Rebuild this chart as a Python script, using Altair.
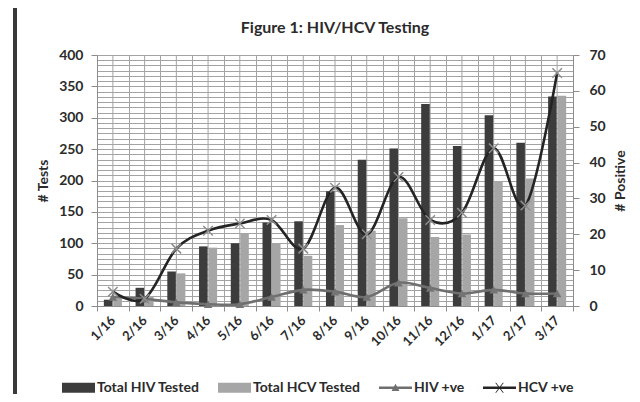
import altair as alt
import pandas as pd

# ---- data ----
months = ["1/16", "2/16", "3/16", "4/16", "5/16", "6/16", "7/16", "8/16",
          "9/16", "10/16", "11/16", "12/16", "1/17", "2/17", "3/17"]
hiv_tested = [10, 29, 55, 95, 100, 133, 135, 183, 233, 251, 322, 255, 304, 260, 334]
hcv_tested = [12, 15, 52, 93, 116, 100, 80, 129, 120, 140, 110, 114, 199, 203, 335]
hiv_pos = [2.5, 2, 1, 0.5, 0.5, 2.5, 4.5, 4, 2.5, 6.5, 5, 3.5, 4.5, 3.5, 3.5]
hcv_pos = [4, 2, 16, 21, 23, 24, 16, 33, 20, 36, 24, 26, 44, 28, 65]

series = ["Total HIV Tested", "Total HCV Tested", "HIV +ve", "HCV +ve"]
colors = ["#3c3c3c", "#a6a6a6", "#6f6f6f", "#242424"]
legend_shapes = [
    "M-1,-0.3H1V0.3H-1Z",
    "M-1,-0.3H1V0.3H-1Z",
    "M-1,-0.07H1V0.07H-1Z M-0.24,0.2L0,-0.24L0.24,0.2Z",
    "M-1,-0.07H1V0.07H-1Z M-0.26,-0.3L-0.2,-0.3L0.26,0.3L0.2,0.3Z "
    "M0.2,-0.3L0.26,-0.3L-0.2,0.3L-0.26,0.3Z",
]
left_ticks = [0, 50, 100, 150, 200, 250, 300, 350, 400]
right_ticks = [0, 10, 20, 30, 40, 50, 60, 70]

FONT = "Lato"
TXT = "#2b2b2b"
GRID = "#a3a3a3"
AXIS = "#8c8c8c"
W, H = 476, 251

bars_df = pd.DataFrame({
    "month": months + months,
    "series": [series[0]] * len(months) + [series[1]] * len(months),
    "value": hiv_tested + hcv_tested,
})
lines_df = pd.DataFrame({
    "month": months + months,
    "series": [series[2]] * len(months) + [series[3]] * len(months),
    "value": hiv_pos + hcv_pos,
})
months_df = pd.DataFrame({"month": months})

grid_vals = [i * 400 / 48 for i in range(49)]
is_major = "abs(datum.value / 50 - round(datum.value / 50)) < 0.01"

x_axis = alt.Axis(
    title=None, labelAngle=-45, labelAlign="right", labelBaseline="middle",
    labelFont=FONT, labelFontSize=13, labelFontWeight="bold", labelColor=TXT,
    labelPadding=7, tickBand="extent", grid=True, gridColor=GRID, gridWidth=1,
    tickColor=AXIS, tickSize=5, domainColor=AXIS,
)
x_enc = alt.X("month:N", sort=months,
              scale=alt.Scale(paddingInner=0, paddingOuter=0), axis=x_axis)

left_axis = alt.Axis(
    values=grid_vals, grid=True, gridColor=GRID, gridWidth=1,
    labelExpr=f"{is_major} ? format(round(datum.value), 'd') : ''",
    labelOverlap=False, labelFlush=False,
    tickOpacity={"condition": {"test": is_major, "value": 1}, "value": 0},
    tickSize=6, tickColor=AXIS, domainColor=AXIS, labelPadding=8,
    labelFont=FONT, labelFontSize=14, labelFontWeight="bold", labelColor=TXT,
    title="# Tests", titleFont=FONT, titleFontSize=14, titleFontWeight="bold",
    titleColor=TXT, titlePadding=8,
)
right_axis = alt.Axis(
    orient="right", values=right_ticks, grid=False,
    tickSize=6, tickColor=AXIS, domainColor=AXIS, labelPadding=10,
    labelFont=FONT, labelFontSize=14, labelFontWeight="bold", labelColor=TXT,
    title="# Positive", titleAngle=270, titleBaseline="top", titleFont=FONT,
    titleFontSize=14, titleFontWeight="bold", titleColor=TXT, titlePadding=8,
)

legend = alt.Legend(
    title=None, orient="none", legendX=-35, legendY=316, direction="horizontal",
    symbolSize=1089, symbolOpacity=1, symbolStrokeWidth=0,
    labelFont=FONT, labelFontSize=14, labelFontWeight="bold",
    labelColor=TXT, labelOffset=2, columnPadding=18, padding=0,
)
color_scale = alt.Scale(domain=series, range=colors)
color_enc = alt.Color("series:N", scale=color_scale, legend=legend)

border = alt.Chart(months_df).mark_rule(color="#3a3a3a", strokeWidth=3).encode(
    x=alt.value(-82), y=alt.value(-47), y2=alt.value(H + 88)
)

center_grid = alt.Chart(months_df).mark_rule(color=GRID, strokeWidth=1).encode(
    x=x_enc, y=alt.value(0), y2=alt.value(H)
)

bars = alt.Chart(bars_df).mark_bar().encode(
    x=x_enc,
    xOffset=alt.XOffset("series:N", sort=series[:2],
                        scale=alt.Scale(domain=series[:2], paddingInner=0.1,
                                        paddingOuter=0.72)),
    y=alt.Y("value:Q", scale=alt.Scale(domain=[0, 400], nice=False), axis=left_axis),
    color=color_enc,
)

y_right = alt.Y("value:Q", scale=alt.Scale(domain=[0, 70], nice=False), axis=right_axis)

lines = alt.Chart(lines_df).mark_line(interpolate="cardinal", strokeWidth=2.6).encode(
    x=x_enc, y=y_right, color=color_enc
)
tri = alt.Chart(lines_df).transform_filter(alt.datum.series == "HIV +ve").mark_point(
    shape="triangle-up", filled=True, size=75, color="#747474", opacity=1
).encode(x=x_enc, y=y_right)
xs = alt.Chart(lines_df).transform_filter(alt.datum.series == "HCV +ve").mark_point(
    shape="M-1,-1L1,1M-1,1L1,-1", filled=False, size=90, strokeWidth=1.5,
    color="#8e8e8e", opacity=1
).encode(x=x_enc, y=y_right)

# invisible layer that only supplies the legend symbol shapes
legend_layer = alt.Chart(lines_df).mark_point(filled=True, opacity=0).encode(
    x=x_enc, y=y_right,
    color=color_enc,
    shape=alt.Shape("series:N", scale=alt.Scale(domain=series, range=legend_shapes),
                    legend=legend),
)

right_layer = alt.layer(lines, tri, xs, legend_layer)

chart = alt.layer(border, center_grid, bars, right_layer).resolve_scale(
    y="independent"
).properties(
    width=W, height=H,
    title=alt.TitleParams("Figure 1: HIV/HCV Testing", font=FONT, fontSize=16,
                          fontWeight="bold", color=TXT, anchor="middle",
                          frame="group", offset=-29),
    autosize=alt.AutoSizeParams(type="none"),
    padding={"left": 89, "top": 47, "right": 59, "bottom": 88},
    background="white",
).configure_view(stroke=None)

chart.save("out.html", embed_options={"renderer": "svg", "actions": False})
